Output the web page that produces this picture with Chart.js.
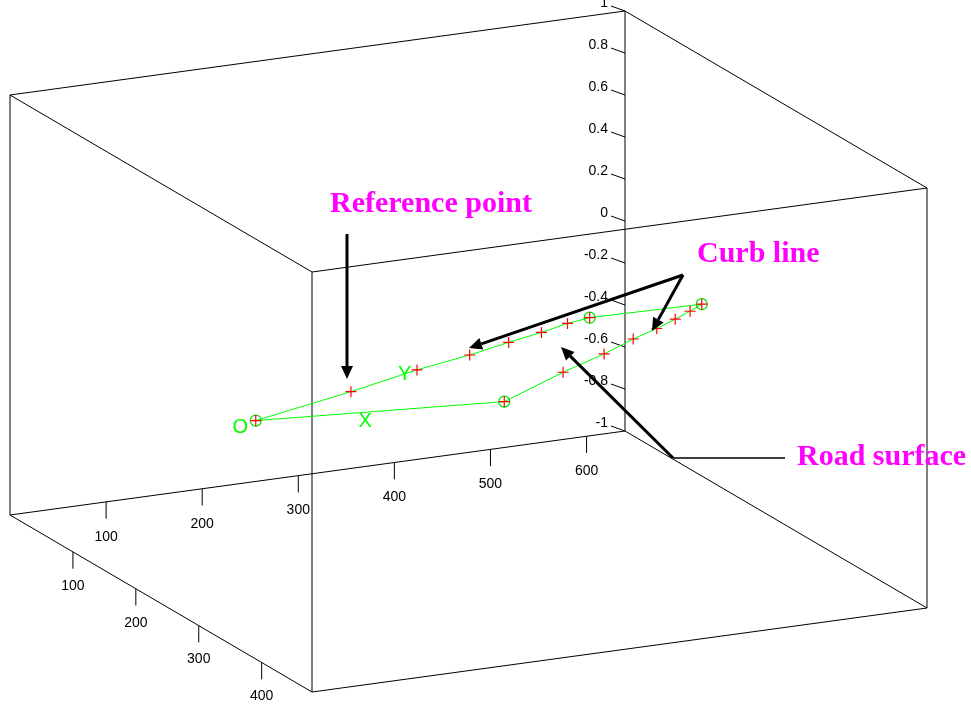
<!DOCTYPE html>
<html>
<head>
<meta charset="utf-8">
<script src="https://cdn.jsdelivr.net/npm/chart.js@4.4.1/dist/chart.umd.min.js"></script>
<style>
  html, body { margin: 0; padding: 0; background: #fff; }
  #wrap { width: 971px; height: 704px; position: relative; }
</style>
</head>
<body>
<div id="wrap"><canvas id="myChart"></canvas></div>
<script>
// limits and ticks of the 3-D box
let xLim = [0, 640];
let yLim = [0, 480];
let zLim = [-1, 1];
let xTicks = [100, 200, 300, 400, 500, 600];
let yTicks = [100, 200, 300, 400];
let zTicks = [-1, -0.8, -0.6, -0.4, -0.2, 0, 0.2, 0.4, 0.6, 0.8, 1];

// measured road outline, in drawing order (closed back to O), all in the z = 0 plane
let ptX = [41, 163, 250, 316, 367, 409, 444, 471, 585, 565, 541, 512, 477, 431, 370, 278, 41];
let ptY = [328, 293, 265, 248, 232, 220, 208, 202, 206, 218, 231, 246, 262, 286, 314, 361, 328];
let ptZ = [0, 0, 0, 0, 0, 0, 0, 0, 0, 0, 0, 0, 0, 0, 0, 0, 0];
// points that also carry a circle
let cornerIdx = [0, 7, 8, 15];

// local axis letters
let letters = ["O", "X", "Y"];
let letterX = [19, 134, 234];
let letterY = [337, 360, 270];
let letterZ = [0, 0, 0];

// callouts (drawn on top, in page units)
let notes = ["Reference point", "Curb line", "Road surface"];
let notePos = [[330, 204], [697, 254], [797, 457]];
let arrows = [[[347, 234], [347, 379]], [[683, 275], [469, 348]], [[683, 275], [652, 331]], [[673, 458], [561, 347]]];
let leader = [[673, 458], [785, 458]];

// camera: where the unit box lands on the page
let view = { o: [10, 515], ex: [615, -84], ey: [302, 177], ez: [0, -420] };

function proj(x, y, z) {
    let a = (x - xLim[0]) / (xLim[1] - xLim[0]);
    let b = (y - yLim[0]) / (yLim[1] - yLim[0]);
    let c = (z - zLim[0]) / (zLim[1] - zLim[0]);
    return {
        x: view.o[0] + a * view.ex[0] + b * view.ey[0] + c * view.ez[0],
        y: view.o[1] + a * view.ex[1] + b * view.ey[1] + c * view.ez[1],
    };
}

let outline = ptX.map(function (x, i) { return proj(x, ptY[i], ptZ[i]); });
let markers = outline.slice(0, outline.length - 1);
let corners = cornerIdx.map(function (i) { return outline[i]; });

let tickFont = '14px "Liberation Sans", Arial, sans-serif';

let boxPlugin = {
    id: "box3d",
    beforeDatasetsDraw: function (chart) {
        let c = chart.ctx;
        let sx = chart.scales.x, sy = chart.scales.y;
        function px(p) { return [sx.getPixelForValue(p.x), sy.getPixelForValue(p.y)]; }
        function seg(p, q) {
            let a = px(p), b = px(q);
            c.beginPath();
            c.moveTo(a[0], a[1]);
            c.lineTo(b[0], b[1]);
            c.stroke();
        }
        c.save();
        c.strokeStyle = "#000";
        c.lineWidth = 1;
        let X = xLim, Y = yLim, Z = zLim;
        // 12 box edges
        [Z[0], Z[1]].forEach(function (z) {
            seg(proj(X[0], Y[0], z), proj(X[1], Y[0], z));
            seg(proj(X[1], Y[0], z), proj(X[1], Y[1], z));
            seg(proj(X[1], Y[1], z), proj(X[0], Y[1], z));
            seg(proj(X[0], Y[1], z), proj(X[0], Y[0], z));
        });
        [[X[0], Y[0]], [X[1], Y[0]], [X[1], Y[1]], [X[0], Y[1]]].forEach(function (v) {
            seg(proj(v[0], v[1], Z[0]), proj(v[0], v[1], Z[1]));
        });

        c.fillStyle = "#000";
        c.font = tickFont;
        c.textAlign = "center";
        c.textBaseline = "middle";
        let drop = (Z[1] - Z[0]) * 0.04;
        xTicks.forEach(function (t) {
            seg(proj(t, Y[0], Z[0]), proj(t, Y[0], Z[0] - drop));
            let p = px(proj(t, Y[0], Z[0]));
            c.fillText(String(t), p[0], p[1] + 35);
        });
        yTicks.forEach(function (t) {
            seg(proj(X[0], t, Z[0]), proj(X[0], t, Z[0] - drop));
            let p = px(proj(X[0], t, Z[0]));
            c.fillText(String(t), p[0], p[1] + 34);
        });
        c.textAlign = "right";
        zTicks.forEach(function (t) {
            let p = px(proj(X[1], Y[0], t));
            c.beginPath();
            c.moveTo(p[0], p[1]);
            c.lineTo(p[0] - 14, p[1] - 5);
            c.stroke();
            c.fillText(String(t), p[0] - 17, p[1] - 8);
        });
        c.restore();
    },
    afterDatasetsDraw: function (chart) {
        let c = chart.ctx;
        let sx = chart.scales.x, sy = chart.scales.y;
        c.save();
        // green axis letters
        c.fillStyle = "#00ff00";
        c.font = '20px "Liberation Sans", Arial, sans-serif';
        c.textAlign = "center";
        c.textBaseline = "middle";
        letters.forEach(function (s, i) {
            let p = proj(letterX[i], letterY[i], letterZ[i]);
            c.fillText(s, sx.getPixelForValue(p.x), sy.getPixelForValue(p.y) + 1);
        });

        // leader line for road surface
        c.strokeStyle = "#000";
        c.lineWidth = 1.6;
        c.beginPath();
        c.moveTo(sx.getPixelForValue(leader[0][0]), sy.getPixelForValue(leader[0][1]));
        c.lineTo(sx.getPixelForValue(leader[1][0]), sy.getPixelForValue(leader[1][1]));
        c.stroke();

        // arrows
        c.fillStyle = "#000";
        arrows.forEach(function (a) {
            let x0 = sx.getPixelForValue(a[0][0]), y0 = sy.getPixelForValue(a[0][1]);
            let x1 = sx.getPixelForValue(a[1][0]), y1 = sy.getPixelForValue(a[1][1]);
            let ang = Math.atan2(y1 - y0, x1 - x0);
            let len = 13, half = 6;
            let bx = x1 - len * Math.cos(ang), by = y1 - len * Math.sin(ang);
            c.lineWidth = 3;
            c.beginPath();
            c.moveTo(x0, y0);
            c.lineTo(bx, by);
            c.stroke();
            c.beginPath();
            c.moveTo(x1, y1);
            c.lineTo(bx + half * Math.sin(ang), by - half * Math.cos(ang));
            c.lineTo(bx - half * Math.sin(ang), by + half * Math.cos(ang));
            c.closePath();
            c.fill();
        });

        // magenta callouts
        c.fillStyle = "#ff00ff";
        c.font = 'bold 30px "Liberation Serif", "Times New Roman", serif';
        c.textAlign = "left";
        notes.forEach(function (s, i) {
            c.fillText(s, sx.getPixelForValue(notePos[i][0]), sy.getPixelForValue(notePos[i][1]));
        });
        c.restore();
    },
};

let ctx = document.getElementById("myChart").getContext("2d");
let chart = new Chart(ctx, {
    type: "scatter",
    data: {
        datasets: [
            {
                data: outline,
                showLine: true,
                borderColor: "#00ff00",
                borderWidth: 1,
                pointRadius: 0,
                order: 3,
            },
            {
                data: corners,
                showLine: false,
                pointStyle: "circle",
                pointRadius: 5.5,
                borderColor: "#00dd00",
                backgroundColor: "rgba(0,0,0,0)",
                borderWidth: 1.2,
                order: 2,
            },
            {
                data: markers,
                showLine: false,
                pointStyle: "cross",
                pointRadius: 5.5,
                borderColor: "#ff0000",
                borderWidth: 1.2,
                order: 1,
            },
        ],
    },
    options: {
        responsive: true,
        maintainAspectRatio: false,
        animation: false,
        events: [],
        layout: { padding: 0, autoPadding: false },
        plugins: { legend: { display: false }, tooltip: { enabled: false } },
        scales: {
            x: { type: "linear", min: 0, max: 971, display: false },
            y: { type: "linear", min: 0, max: 704, reverse: true, display: false },
        },
    },
    plugins: [boxPlugin],
});
</script>
</body>
</html>
